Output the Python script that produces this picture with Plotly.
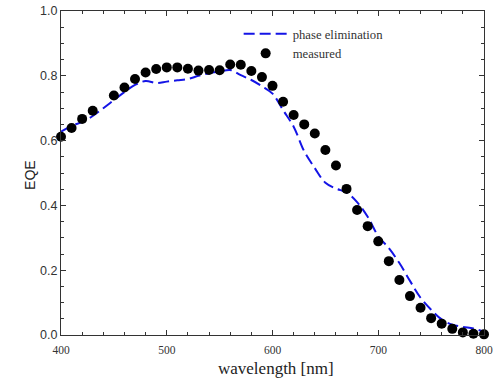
import plotly.graph_objects as go

# measured EQE
meas_wl = [400, 410, 420, 430, 450, 460, 470, 480, 490, 500, 510, 520, 530, 540, 550,
           560, 570, 580, 590, 600, 610, 620, 630, 640, 650, 660, 670, 680, 690, 700,
           710, 720, 730, 740, 750, 760, 770, 780, 790, 800]
meas_eqe = [0.612, 0.639, 0.667, 0.692, 0.739, 0.764, 0.790, 0.810, 0.821, 0.826, 0.826, 0.822,
            0.816, 0.818, 0.817, 0.835, 0.834, 0.815, 0.796, 0.769, 0.720, 0.679, 0.650, 0.622,
            0.571, 0.523, 0.451, 0.386, 0.336, 0.289, 0.228, 0.170, 0.120, 0.084, 0.052,
            0.035, 0.019, 0.008, 0.004, 0.002]

# phase elimination model
model_wl = [400, 410, 420, 430, 440, 450, 460, 470, 480, 490, 500, 510, 520, 530, 540, 550,
            560, 570, 580, 590, 600, 610, 620, 630, 640, 650, 660, 670, 680, 690, 700,
            710, 720, 730, 740, 750, 760, 770, 780, 790, 800]
model_eqe = [0.628, 0.645, 0.658, 0.676, 0.700, 0.725, 0.750, 0.772, 0.784, 0.778, 0.782,
             0.786, 0.790, 0.800, 0.808, 0.813, 0.818, 0.802, 0.787, 0.768, 0.745, 0.694,
             0.643, 0.567, 0.515, 0.470, 0.452, 0.440, 0.410, 0.365, 0.305, 0.268, 0.222,
             0.167, 0.115, 0.078, 0.048, 0.032, 0.025, 0.020, 0.010]

x_title = "wavelength [nm]"
y_title = "EQE"

fig = go.Figure()
fig.add_trace(go.Scatter(x=model_wl, y=model_eqe, mode="lines", name="phase elimination",
                         line=dict(color="#1414e6", width=2, dash="11px,5px"),
                         line_shape="spline"))
fig.add_trace(go.Scatter(x=meas_wl, y=meas_eqe, mode="markers", name="measured",
                         marker=dict(color="black", size=10), cliponaxis=False))

fig.update_layout(
    width=493, height=378,
    margin=dict(l=61, r=9, t=11, b=43),
    paper_bgcolor="white", plot_bgcolor="white",
    showlegend=True,
    legend=dict(x=0.42, y=0.975, xanchor="left", yanchor="top",
                bgcolor="rgba(0,0,0,0)", tracegroupgap=0, itemwidth=44,
                font=dict(family="Liberation Serif", size=12.7, color="#333")),
    xaxis=dict(range=[400, 800], dtick=100, ticks="inside", ticklen=5, tickcolor="#333",
               showline=True, linecolor="#333", linewidth=1, mirror="ticks",
               showgrid=False, zeroline=False, automargin=False, ticklabelstandoff=4,
               tickfont=dict(family="Liberation Serif", size=11.5, color="#333"),
               minor=dict(dtick=20, ticks="inside", ticklen=3, tickcolor="#333", showgrid=False)),
    yaxis=dict(range=[0, 1.0], dtick=0.2, tickformat=".1f", ticks="inside", ticklen=5,
               tickcolor="#333", showline=True, linecolor="#333", linewidth=1, mirror="ticks",
               showgrid=False, zeroline=False, automargin=False,
               tickfont=dict(family="Liberation Sans", size=12.5, color="#333"),
               minor=dict(dtick=0.05, ticks="inside", ticklen=3, tickcolor="#333", showgrid=False)),
    annotations=[
        dict(text=x_title, xref="paper", yref="paper", x=0.509, y=-0.102,
             xanchor="center", yanchor="middle", showarrow=False,
             font=dict(family="Liberation Serif", size=17, color="#222")),
        dict(text=y_title, xref="paper", yref="paper", x=-0.0733, y=0.494, textangle=-90,
             xanchor="center", yanchor="middle", showarrow=False,
             font=dict(family="Liberation Sans", size=14, color="#222")),
    ],
)

fig.write_html("out.html", config={"displayModeBar": False},
               post_script="document.body.style.margin='0';")
